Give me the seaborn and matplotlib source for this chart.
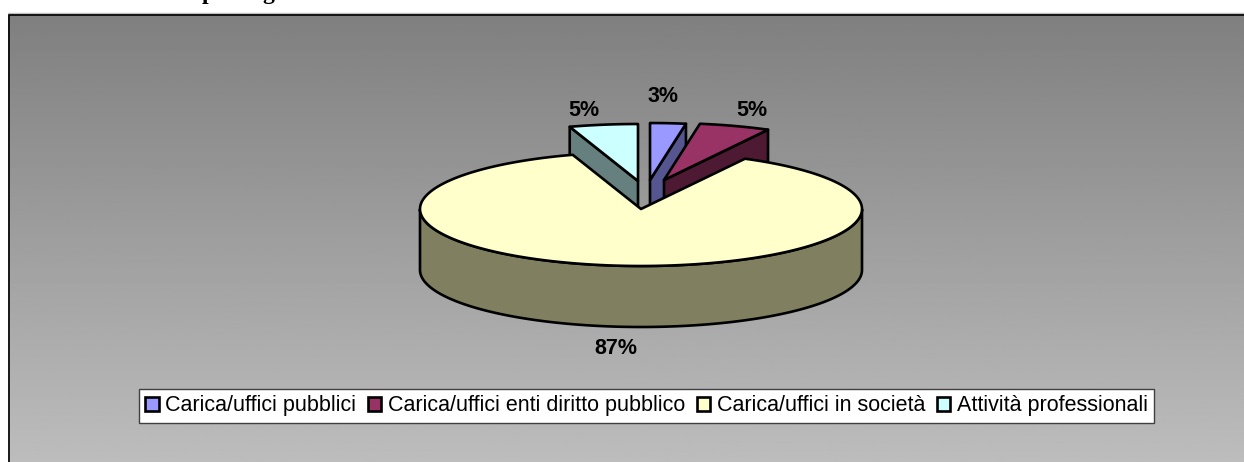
import numpy as np
import matplotlib
matplotlib.use('Agg')
import matplotlib.pyplot as plt
from matplotlib.patches import Patch
import seaborn as sns

# Data
categories = ['Carica/uffici pubblici', 'Carica/uffici enti diritto pubblico',
              'Carica/uffici in società', 'Attività professionali']
shares = [2.6, 5.2, 87.2, 5.0]
top_colors = ['#9999FF', '#993366', '#FFFFCC', '#CCFFFF']
side_colors = ['#55558F', '#4D1933', '#808060', '#668080']

sns.set_theme(style='white')
plt.rcParams['font.family'] = ['Liberation Sans', 'DejaVu Sans']

fig = plt.figure(figsize=(12.44, 4.62), dpi=100)
ax = fig.add_axes([0, 0, 1, 1])
ax.set_xlim(0, 1244)
ax.set_ylim(462, 0)
ax.axis('off')

# Grey gradient background with frame on top and left
grad = np.linspace(0.50, 0.74, 256).reshape(-1, 1)
ax.imshow(grad, cmap='gray', vmin=0, vmax=1, extent=(8, 1244, 462, 14), aspect='auto', zorder=0)
ax.set_xlim(0, 1244)
ax.set_ylim(462, 0)
ax.plot([8, 1244], [13, 13], color='#C0C0C0', lw=1, zorder=1)
ax.plot([8.5, 8.5, 1244], [462, 14.5, 14.5], color='black', lw=1.2, zorder=1)

# Pie geometry in pixels
cx, cy, rx, ry, depth = 641, 209, 221, 57, 61
offsets = [(9, -29), (23, -29), (0, 0), (-3, -28)]
lw = 1.9

edges = np.concatenate([[0], np.cumsum(shares)]) / np.sum(shares) * 2 * np.pi


def arc(a, b):
    t = np.linspace(a, b, 200)
    return rx * np.sin(t), -ry * np.cos(t)


def draw_small(i, zorder):
    dx, dy = offsets[i]
    a, b = edges[i], edges[i + 1]
    x, y = arc(a, b)
    ax0, ay0 = cx + dx, cy + dy
    # visible cut face: right edge for the slices on the right, left edge for the one on the left
    t = b if a < np.pi else a
    ex, ey = ax0 + rx * np.sin(t), ay0 - ry * np.cos(t)
    ax.fill([ax0, ex, ex, ax0], [ay0, ey, ey + depth, ay0 + depth],
            facecolor=side_colors[i], edgecolor='black', lw=lw, joinstyle='round', zorder=zorder)
    ax.fill(np.r_[ax0, ax0 + x], np.r_[ay0, ay0 + y],
            facecolor=top_colors[i], edgecolor='black', lw=lw, joinstyle='round', zorder=zorder)


draw_small(3, 2)
draw_small(0, 3)
draw_small(1, 4)

# Big slice: rim first, then top
x, y = arc(np.pi / 2, 3 * np.pi / 2)
ax.fill(np.r_[cx + x, cx + x[::-1]], np.r_[cy + y, cy + y[::-1] + depth],
        facecolor=side_colors[2], edgecolor='black', lw=lw, zorder=5)
x, y = arc(edges[2], edges[3])
ax.fill(np.r_[cx, cx + x], np.r_[cy, cy + y],
        facecolor=top_colors[2], edgecolor='black', lw=lw, joinstyle='round', zorder=6)

# Percent labels
label_pos = [(663, 96), (752, 111), (616, 348), (584, 110)]
for share, (lx, ly) in zip(shares, label_pos):
    ax.text(lx, ly, f'{share:.0f}%', ha='center', va='center', fontsize=15.5,
            fontweight='bold', color='black', zorder=7)

# Legend
handles = [Patch(facecolor=c, edgecolor='black', lw=1.9) for c in top_colors]
leg = ax.legend(handles, categories, ncol=4, loc='upper left',
                bbox_to_anchor=(139, 389), bbox_transform=ax.transData,
                fontsize=15.5, labelcolor='black', frameon=True, fancybox=False, framealpha=1,
                facecolor='white', edgecolor='#404040', borderaxespad=0,
                handlelength=0.62, handleheight=0.62, handletextpad=0.3,
                columnspacing=0.55, borderpad=0.3)
leg.get_frame().set_linewidth(1)

# Descenders of the cut-off heading above the chart
for lx, s in zip([208, 268], ['p', 'g']):
    ax.text(lx, -1, s, ha='center', va='baseline', fontsize=17, fontweight='bold',
            family='Liberation Serif', color='black', clip_on=False)

fig.savefig('out.png', dpi=100)
